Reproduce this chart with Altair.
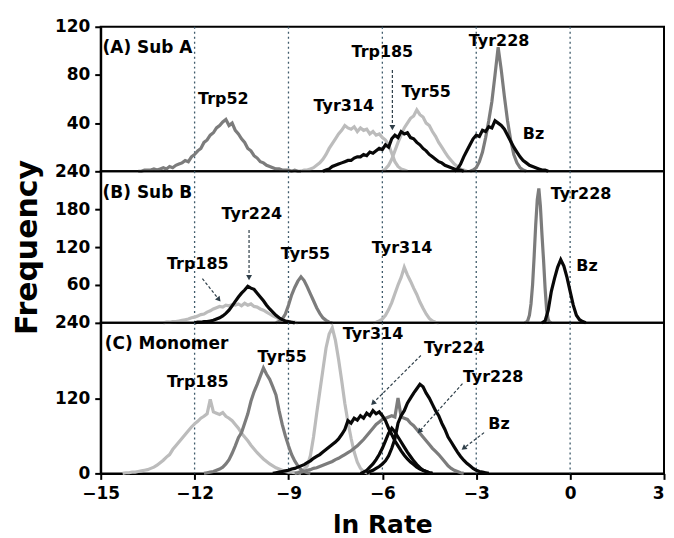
import altair as alt
import pandas as pd

# ---------------- data ----------------
x_ticks = [-15, -12, -9, -6, -3, 0, 3]
grid_x = [-12, -9, -6, -3, 0]

# Panel A (Sub A)
a_trp52 = [0, 0, 1, 1, 1, 2, 1, 2, 3, 2, 4, 3, 5, 6, 7, 9, 8, 12, 14, 17, 19, 24, 26, 30, 32, 36, 38, 41, 43, 38,
           40, 34, 31, 27, 24, 19, 17, 13, 11, 8, 7, 5, 4, 3, 2, 2, 1, 1, 1, 0, 1, 0, 0]
a_tyr314 = [0, 1, 1, 2, 3, 5, 7, 10, 14, 19, 23, 27, 31, 34, 38, 36, 35, 37, 33, 36, 34, 35, 31, 33, 30, 31, 28,
            26, 22, 15, 8, 4, 2, 1, 0]
a_trp185 = [0, 1, 2, 4, 5, 6, 7, 8, 9, 9, 11, 12, 12, 14, 13, 16, 15, 17, 19, 18, 22, 20, 27, 30, 28, 33, 31, 32,
            28, 27, 24, 22, 19, 17, 14, 12, 10, 8, 7, 5, 4, 3, 2, 1, 1, 0]
a_tyr55 = [0, 2, 5, 10, 17, 24, 30, 36, 40, 44, 46, 51, 47, 45, 40, 38, 33, 29, 24, 20, 16, 12, 9, 6, 4, 2, 1, 0]
a_bz = [0, 2, 6, 12, 17, 22, 27, 30, 29, 34, 33, 37, 36, 42, 40, 38, 35, 30, 25, 20, 16, 12, 9, 7, 5, 4, 3, 2, 1,
        1, 0]
a_tyr228 = [0, 1, 3, 8, 16, 28, 42, 58, 80, 103, 84, 62, 42, 26, 14, 7, 3, 1, 0]

# Panel B (Sub B)
b_trp185 = [0, 1, 1, 2, 2, 3, 4, 5, 6, 8, 9, 11, 13, 14, 17, 19, 22, 24, 26, 25, 28, 27, 29, 28, 30, 27, 31, 28,
            30, 26, 25, 22, 20, 17, 14, 11, 9, 6, 4, 3, 2, 1, 1, 0]
b_tyr224 = [0, 1, 1, 2, 2, 3, 4, 6, 8, 11, 15, 20, 27, 34, 41, 47, 52, 58, 55, 53, 47, 41, 35, 28, 22, 17, 12, 8,
            5, 3, 2, 1, 0]
b_tyr55 = [0, 2, 6, 14, 28, 44, 56, 66, 73, 67, 57, 46, 35, 24, 15, 8, 4, 1, 0]
b_tyr314 = [0, 1, 3, 6, 12, 21, 32, 46, 60, 72, 88, 76, 66, 55, 45, 33, 23, 14, 7, 3, 1, 0]
b_tyr228 = [0, 1, 4, 12, 30, 60, 105, 155, 195, 213, 185, 140, 100, 55, 20, 5, 1, 0]
b_bz = [0, 3, 20, 50, 70, 88, 100, 90, 72, 50, 28, 12, 5, 2, 0]

# Panel C (Monomer)
c_trp185 = [0, 1, 1, 2, 2, 3, 4, 5, 6, 8, 10, 13, 17, 21, 26, 30, 38, 44, 50, 56, 62, 68, 74, 79, 83, 88, 91, 95,
            118, 98, 96, 94, 97, 91, 88, 84, 78, 72, 64, 58, 52, 45, 39, 33, 28, 23, 19, 15, 12, 9, 7, 5, 3, 2, 2,
            1, 1, 0]
c_tyr55 = [0, 1, 2, 3, 5, 7, 10, 15, 22, 32, 44, 57, 65, 80, 95, 115, 130, 142, 155, 168, 158, 150, 138, 125,
           100, 78, 60, 44, 30, 20, 12, 6, 3, 1, 0]
c_tyr314 = [0, 2, 4, 7, 12, 28, 58, 95, 130, 165, 200, 222, 232, 212, 182, 148, 112, 82, 56, 34, 18, 8, 3, 1, 0]
c_tyr224 = [0, 1, 2, 3, 4, 5, 7, 8, 10, 12, 14, 17, 20, 24, 27, 30, 34, 38, 42, 46, 50, 55, 62, 70, 84, 80, 88,
            85, 92, 88, 96, 92, 100, 95, 98, 92, 84, 72, 62, 52, 44, 36, 29, 23, 18, 14, 10, 7, 5, 3, 1, 0]
c_black2 = [0, 2, 5, 10, 15, 22, 30, 40, 52, 64, 72, 66, 58, 50, 42, 34, 27, 20, 14, 9, 5, 3, 1, 0]
c_bz = [0, 3, 5, 8, 11, 15, 20, 28, 40, 55, 80, 92, 100, 112, 120, 128, 135, 142, 138, 128, 120, 110, 100, 92,
        80, 70, 58, 50, 42, 34, 27, 21, 16, 12, 8, 5, 3, 2, 1, 0]
c_tyr228 = [0, 1, 2, 3, 5, 6, 8, 9, 11, 13, 15, 17, 19, 22, 24, 27, 30, 33, 36, 40, 44, 49, 54, 60, 66, 72, 78,
            82, 86, 88, 90, 92, 90, 120, 90, 88, 86, 80, 76, 70, 64, 58, 52, 46, 40, 35, 30, 24, 18, 12, 8, 5, 3,
            1, 0]

# (panel, series, tone, first bin, bin width, counts)
series = [
    ("A", "Trp52", "dark", -13.8, 0.1, a_trp52),
    ("A", "Tyr314", "light", -8.6, 0.1, a_tyr314),
    ("A", "Trp185", "black", -7.9, 0.1, a_trp185),
    ("A", "Tyr55", "light", -6.0, 0.1, a_tyr55),
    ("A", "Bz", "black", -3.7, 0.1, a_bz),
    ("A", "Tyr228", "dark", -3.2, 0.1, a_tyr228),
    ("B", "Trp185", "light", -13.0, 0.1, b_trp185),
    ("B", "Tyr224", "black", -12.0, 0.1, b_tyr224),
    ("B", "Tyr55", "dark", -9.4, 0.1, b_tyr55),
    ("B", "Tyr314", "light", -6.3, 0.1, b_tyr314),
    ("B", "Tyr228", "dark", -1.45, 0.05, b_tyr228),
    ("B", "Bz", "black", -0.9, 0.1, b_bz),
    ("C", "Trp185", "light", -14.3, 0.1, c_trp185),
    ("C", "Tyr55", "dark", -11.7, 0.1, c_tyr55),
    ("C", "Tyr314", "light", -8.8, 0.1, c_tyr314),
    ("C", "Tyr224", "black", -9.5, 0.1, c_tyr224),
    ("C", "Tyr224b", "black", -6.7, 0.1, c_black2),
    ("C", "Bz", "black", -6.5, 0.1, c_bz),
    ("C", "Tyr228", "dark", -8.8, 0.1, c_tyr228),
]

labels = pd.DataFrame([
    ("A", "Trp52", -11.08, 60), ("A", "Tyr314", -7.23, 54), ("A", "Trp185", -6.0, 99),
    ("A", "Tyr55", -4.6, 66), ("A", "Tyr228", -2.27, 108), ("A", "Bz", -1.17, 31),
    ("B", "Tyr224", -10.17, 172), ("B", "Trp185", -11.9, 93), ("B", "Tyr55", -8.46, 109),
    ("B", "Tyr314", -5.37, 118), ("B", "Tyr228", 0.35, 204), ("B", "Bz", 0.54, 90),
    ("C", "Trp185", -11.9, 145), ("C", "Tyr55", -9.2, 185), ("C", "Tyr314", -6.3, 222),
    ("C", "Tyr224", -3.7, 200), ("C", "Tyr228", -2.46, 153), ("C", "Bz", -2.27, 79),
], columns=["panel", "label", "x", "y"])

panel_titles = pd.DataFrame([
    ("A", "(A) Sub A", -14.94, 102), ("B", "(B) Sub B", -14.94, 205), ("C", "(C) Monomer", -14.87, 207),
], columns=["panel", "label", "x", "y"])

arrows = pd.DataFrame([
    ("A", -5.68, 84, -5.68, 37, 180),
    ("B", -10.26, 147, -10.26, 73, 180),
    ("B", -11.75, 70, -11.24, 38, 141),
    ("C", -4.77, 188, -6.28, 113, 225),
    ("C", -3.44, 143, -4.8, 68, 222),
    ("C", -2.75, 65, -3.38, 41, 233),
], columns=["panel", "x", "y", "x2", "y2", "ang"])
heads = pd.DataFrame({"panel": arrows["panel"], "x": arrows["x2"], "y": arrows["y2"], "ang": arrows["ang"]})

rows = []
for pid, name, tone, x0, step, vals in series:
    for i, v in enumerate(vals):
        rows.append({"panel": pid, "series": name, "tone": tone, "x": round(x0 + i * step, 3), "y": v})
hist = pd.DataFrame(rows)
grid = pd.DataFrame({"x": grid_x})

tone_color = {"light": "#bcbcbc", "dark": "#7c7c7c", "black": "#080808"}
FONT = "DejaVu Sans"


def panel(pid, ymax, yvals, height, show_x, show_title):
    if show_x:
        xaxis = alt.Axis(values=x_ticks, title="ln Rate", titleFontSize=25, labelPadding=6,
                         titlePadding=11, labelFlush=False, labelOverlap=False,
                         labelAlign={"expr": "datum.value == 3 ? 'right' : 'center'"})
    else:
        xaxis = alt.Axis(values=x_ticks, labels=False, ticks=False, domain=False, title=None)
    xenc = alt.X("x:Q", scale=alt.Scale(domain=[-15, 3], nice=False, zero=False), axis=xaxis)
    yaxis = alt.Axis(values=yvals, labelOverlap=False, labelPadding=5,
                     title=("Frequency" if show_title else None), titleFontSize=30, titlePadding=12)
    yenc = alt.Y("y:Q", scale=alt.Scale(domain=[0, ymax], nice=False, zero=True), axis=yaxis)
    d = hist[hist.panel == pid]
    layers = [alt.Chart(grid).mark_rule(color="#3f5b6b", strokeDash=[2, 3], strokeWidth=1.3).encode(
        x=alt.X("x:Q"))]
    for tone in ["light", "dark", "black"]:
        sub = d[d.tone == tone]
        if len(sub):
            layers.append(alt.Chart(sub).mark_line(color=tone_color[tone], strokeWidth=3.2,
                                                   strokeJoin="miter").encode(
                x=xenc, y=yenc, detail="series:N"))
    ar = arrows[arrows.panel == pid]
    layers.append(alt.Chart(ar).mark_rule(color="#2e3e48", strokeDash=[3, 2], strokeWidth=1.2).encode(
        x=alt.X("x:Q"), y=alt.Y("y:Q"), x2="x2:Q", y2="y2:Q"))
    layers.append(alt.Chart(heads[heads.panel == pid]).mark_point(
        shape="triangle", filled=True, size=35, color="#2e3e48", opacity=1).encode(
        x=alt.X("x:Q"), y=alt.Y("y:Q"), angle=alt.Angle("ang:Q", scale=None)))
    layers.append(alt.Chart(labels[labels.panel == pid]).mark_text(
        font=FONT, fontWeight="bold", fontSize=16, color="black", align="center", baseline="middle").encode(
        x=alt.X("x:Q"), y=alt.Y("y:Q"), text="label:N"))
    layers.append(alt.Chart(panel_titles[panel_titles.panel == pid]).mark_text(
        font=FONT, fontWeight="bold", fontSize=17, color="black", align="left", baseline="middle").encode(
        x=alt.X("x:Q"), y=alt.Y("y:Q"), text="label:N"))
    return alt.layer(*layers).properties(width=565, height=height)


pA = panel("A", 120, [40, 80, 120], 145, False, False)
pB = panel("B", 240, [60, 120, 180, 240], 152, False, True)
pC = panel("C", 240, [0, 60, 120, 180, 240], 151, True, False)

chart = alt.vconcat(pA, pB, pC, spacing=0, bounds="flush").properties(
    padding={"left": 3, "top": 8, "right": 0, "bottom": 0}
).configure_view(stroke="black", strokeWidth=2).configure_axis(
    labelFont=FONT, labelFontWeight="bold", labelFontSize=17, labelColor="black",
    tickColor="black", tickWidth=2, tickSize=6, domainColor="black", domainWidth=2, grid=False,
    titleFont=FONT, titleFontWeight="bold", titleColor="black"
)

chart.save("out.html", embed_options={"renderer": "svg", "actions": False})
